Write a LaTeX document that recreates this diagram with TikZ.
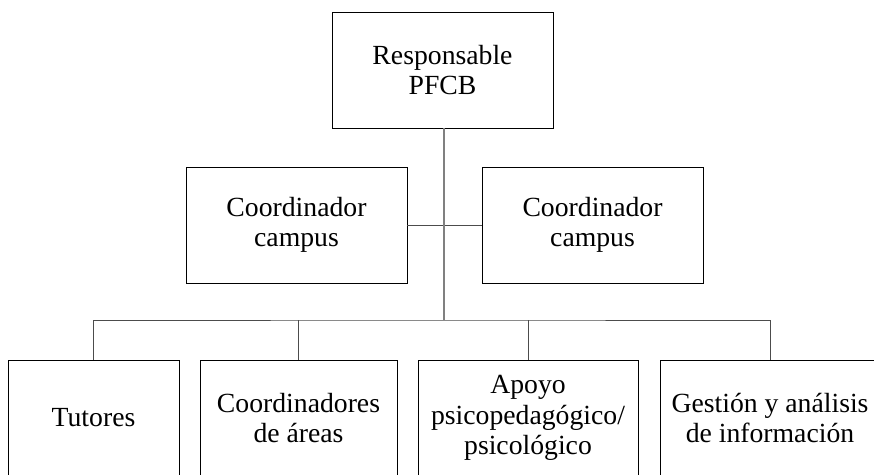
\documentclass[tikz,border=0pt]{standalone}
\usepackage{fontspec}
\setmainfont{Liberation Serif}
\tikzset{
  unit/.style={draw=black, line width=0.9pt, inner sep=0pt, align=center,
    minimum height=116pt, font=\fontsize{27.7}{30.5}\selectfont},
  trunk/.style={draw=black!50, line width=1.4pt},
  bus/.style={draw=black!70, line width=0.9pt},
}
\begin{document}
\begin{tikzpicture}[x=1pt, y=-1pt]
  \useasboundingbox (0,0) rectangle (874,474);
  \clip (0,0) rectangle (874,474);

  % top and campus level
  \node[unit, minimum width=221pt] (resp) at (442.5,70) {Responsable\\PFCB};
  \node[unit, minimum width=221pt] (campusL) at (296.5,225) {Coordinador\\campus};
  \node[unit, minimum width=221pt] (campusR) at (592.5,225) {Coordinador\\campus};

  % bottom level
  \node[unit, minimum width=171pt] (tut) at (93.5,418) {Tutores};
  \node[unit, minimum width=197pt] (areas) at (298.5,418) {Coordinadores\\de áreas};
  \node[unit, minimum width=220pt] (apoyo) at (528,418) {Apoyo\\psicopedagógico/\\psicológico};
  \node[unit, minimum width=220pt] (gest) at (770,418) {Gestión y análisis\\de información};

  \coordinate (hub) at (444,320);

  \draw[bus] (campusL.east) -- (campusR.west);
  \draw[trunk] (resp.south -| hub) -- (hub);
  \draw[bus] (tut.north) |- (hub) -| (gest.north);
  \draw[bus] (areas.north) -- (areas.north |- hub);
  \draw[bus] (apoyo.north) -- (apoyo.north |- hub);
\end{tikzpicture}
\end{document}
